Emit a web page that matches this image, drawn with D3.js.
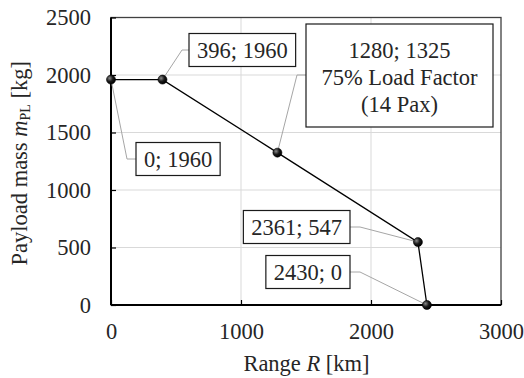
<!DOCTYPE html>
<html>
<head>
<meta charset="utf-8">
<script src="https://cdn.jsdelivr.net/npm/d3@7"></script>
<style>
  html, body { margin: 0; padding: 0; background: #fff; }
  svg { display: block; }
</style>
</head>
<body>
<svg id="chart" width="524" height="378"></svg>
<script>
// Payload-range diagram data
const rangeKm = [0, 396, 1280, 2361, 2430];
const payloadKg = [1960, 1960, 1325, 547, 0];
const pointLabels = [
  ["0; 1960"],
  ["396; 1960"],
  ["1280; 1325", "75% Load Factor", "(14 Pax)"],
  ["2361; 547"],
  ["2430; 0"]
];
const xTicks = [0, 1000, 2000, 3000];
const yTicks = [0, 500, 1000, 1500, 2000, 2500];

// Layout
const plot = { left: 111, right: 501, top: 17.5, bottom: 305 };
const fontSize = 22.5;
const serif = "Liberation Serif";
const ink = "#262626";

// Annotation box placement: anchor side, box edge x, box centre y, elbow x
const labelLayout = [
  { side: "left",  edgeX: 136, cy: 159, elbowX: 127 },
  { side: "left",  edgeX: 189, cy: 50,  elbowX: 182 },
  { side: "left",  edgeX: 306, cy: 75,  elbowX: 297, top: 24, width: 187, height: 103 },
  { side: "right", edgeX: 350, cy: 227, elbowX: 360 },
  { side: "right", edgeX: 350, cy: 272, elbowX: 360 }
];

const svg = d3.select("#chart");

const x = d3.scaleLinear().domain([0, 3000]).range([plot.left, plot.right]);
const y = d3.scaleLinear().domain([0, 2500]).range([plot.bottom, plot.top]);

// Gridlines
const grid = svg.append("g").attr("stroke", "#d9d9d9").attr("stroke-width", 1);
grid.selectAll("line.v").data(xTicks.slice(1, -1)).join("line")
  .attr("x1", d => x(d)).attr("x2", d => x(d))
  .attr("y1", plot.top).attr("y2", plot.bottom);
grid.selectAll("line.h").data(yTicks.slice(1, -1)).join("line")
  .attr("y1", d => y(d)).attr("y2", d => y(d))
  .attr("x1", plot.left).attr("x2", plot.right);

// Frame (top/right)
svg.append("rect")
  .attr("x", plot.left).attr("y", plot.top)
  .attr("width", plot.right - plot.left).attr("height", plot.bottom - plot.top)
  .attr("fill", "none").attr("stroke", "#404040").attr("stroke-width", 1.3);

// Axes
const xAxis = svg.append("g").attr("transform", `translate(0,${plot.bottom})`)
  .call(d3.axisBottom(x).tickValues(xTicks).tickSize(-5).tickPadding(18).tickFormat(d3.format("d")));
const yAxis = svg.append("g").attr("transform", `translate(${plot.left},0)`)
  .call(d3.axisLeft(y).tickValues(yTicks).tickSize(-5).tickPadding(20).tickFormat(d3.format("d")));

[xAxis, yAxis].forEach(a => {
  a.attr("font-family", serif).attr("font-size", fontSize);
  a.select(".domain").attr("stroke", "#000").attr("stroke-width", 2);
  a.selectAll(".tick line").attr("stroke", "#000").attr("stroke-width", 1.2);
  a.selectAll(".tick text")
    .attr("font-family", serif).attr("font-size", fontSize).attr("fill", ink);
});
xAxis.select(".domain").attr("d", `M${plot.left},0H${plot.right}`);
yAxis.select(".domain").attr("d", `M0,${plot.bottom}V${plot.top}`);

// Axis titles
const xt = svg.append("text")
  .attr("x", (plot.left + plot.right) / 2 + 0.5).attr("y", 371)
  .attr("text-anchor", "middle").attr("fill", ink)
  .attr("font-family", serif).attr("font-size", fontSize);
xt.append("tspan").text("Range ");
xt.append("tspan").attr("font-style", "italic").text("R");
xt.append("tspan").text(" [km]");

const yt = svg.append("text")
  .attr("transform", `translate(27,${(plot.top + plot.bottom) / 2 + 2}) rotate(-90)`)
  .attr("text-anchor", "middle").attr("fill", ink)
  .attr("font-family", serif).attr("font-size", fontSize);
yt.append("tspan").text("Payload mass ");
yt.append("tspan").attr("font-style", "italic").text("m");
yt.append("tspan").attr("font-size", 14).attr("dy", 3).text("PL");
yt.append("tspan").attr("dy", -3).text(" [kg]");

// Leader lines
const pts = rangeKm.map((r, i) => [x(r), y(payloadKg[i])]);
const leaders = svg.append("g").attr("fill", "none").attr("stroke", "#a6a6a6").attr("stroke-width", 1);
labelLayout.forEach((L, i) => {
  leaders.append("path")
    .attr("d", d3.line()([pts[i], [L.elbowX, L.cy], [L.edgeX, L.cy]]));
});

// Payload-range line
svg.append("path")
  .attr("d", d3.line()(pts))
  .attr("fill", "none").attr("stroke", "#000").attr("stroke-width", 1.3);

// Markers
const defs = svg.append("defs");
const grad = defs.append("radialGradient").attr("id", "ball")
  .attr("cx", "35%").attr("cy", "35%").attr("r", "65%");
grad.append("stop").attr("offset", "0%").attr("stop-color", "#8a8a8a");
grad.append("stop").attr("offset", "55%").attr("stop-color", "#1a1a1a");
grad.append("stop").attr("offset", "100%").attr("stop-color", "#000");
svg.append("g").selectAll("circle").data(pts).join("circle")
  .attr("cx", d => d[0]).attr("cy", d => d[1]).attr("r", 4.5)
  .attr("fill", "url(#ball)").attr("stroke", "#000").attr("stroke-width", 0.6);

// Label boxes
const boxes = svg.append("g");
labelLayout.forEach((L, i) => {
  const g = boxes.append("g");
  const rect = g.append("rect").attr("fill", "#fff").attr("stroke", "#1a1a1a").attr("stroke-width", 1.2);
  const lines = pointLabels[i];
  if (lines.length === 1) {
    const t = g.append("text").attr("fill", ink)
      .attr("font-family", serif).attr("font-size", fontSize).text(lines[0]);
    const w = t.node().getComputedTextLength();
    const bw = w + 16, bh = 33;
    const bx = L.side === "left" ? L.edgeX : L.edgeX - bw;
    rect.attr("x", bx).attr("y", L.cy - bh / 2).attr("width", bw).attr("height", bh);
    t.attr("x", bx + 8).attr("y", L.cy + 7.5);
  } else {
    rect.attr("x", L.edgeX).attr("y", L.top).attr("width", L.width).attr("height", L.height);
    const cx = L.edgeX + L.width / 2;
    g.append("text").attr("fill", ink).attr("text-anchor", "middle")
      .attr("font-family", serif).attr("font-size", fontSize)
      .selectAll("tspan").data(lines).join("tspan")
      .attr("x", cx).attr("y", (d, k) => L.top + 33.5 + k * 27)
      .text(d => d);
  }
});
</script>
</body>
</html>
